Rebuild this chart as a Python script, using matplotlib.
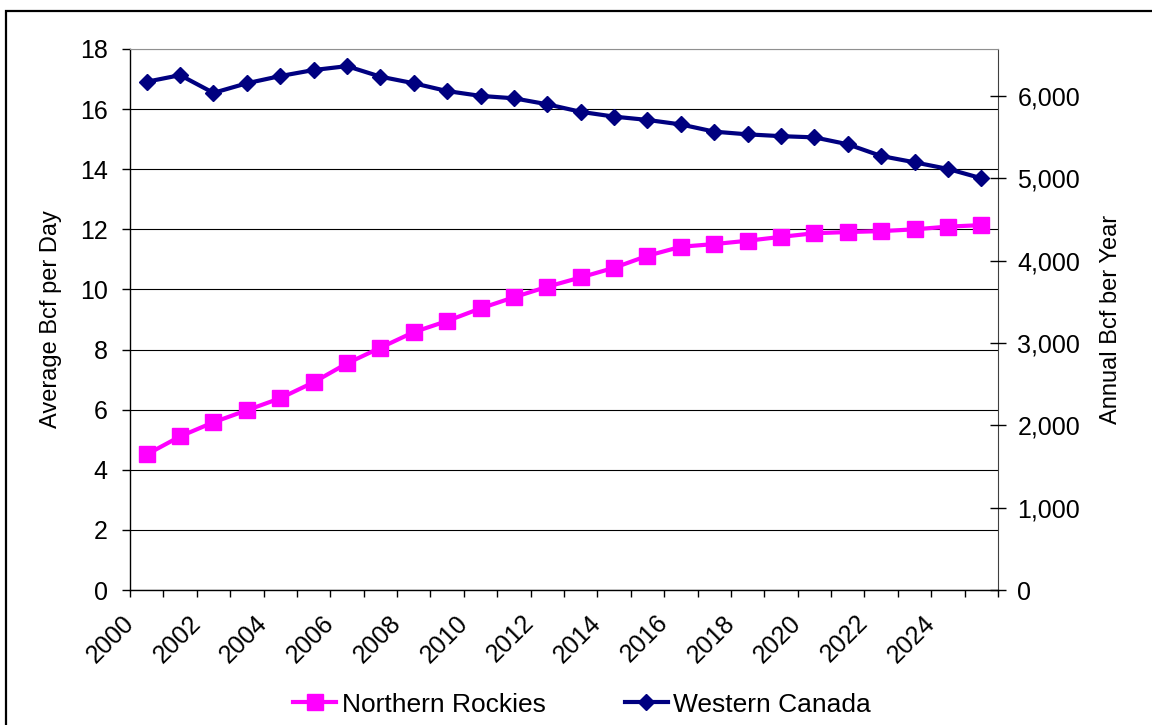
import matplotlib.pyplot as plt
import matplotlib.patches as patches
from matplotlib.ticker import FuncFormatter
import numpy as np

plt.rcParams['font.family'] = ['Liberation Sans', 'DejaVu Sans']

years = list(range(2000, 2026))
northern_rockies = [4.51, 5.11, 5.58, 5.98, 6.38, 6.91, 7.54, 8.06, 8.58, 8.95,
                    9.37, 9.74, 10.09, 10.40, 10.72, 11.12, 11.42, 11.51, 11.62, 11.75,
                    11.87, 11.91, 11.94, 12.00, 12.09, 12.14]
western_canada = [16.91, 17.13, 16.54, 16.86, 17.10, 17.30, 17.43, 17.08, 16.86, 16.60,
                  16.44, 16.36, 16.16, 15.91, 15.75, 15.64, 15.49, 15.25, 15.16, 15.10,
                  15.06, 14.83, 14.44, 14.23, 14.01, 13.70]
left_ticks = list(range(0, 19, 2))
right_ticks = list(range(0, 7000, 1000))
year_labels = [str(y) for y in range(2000, 2025, 2)]

fig = plt.figure(figsize=(11.52, 7.25), dpi=100)
ax = fig.add_axes([130/1152, 1 - 590/725, 868/1152, 541/725])

# points sit in the middle of each year's slot
xs = np.array(years) + 0.5
nr, = ax.plot(xs, northern_rockies, '-s', color='#FF00FF', lw=3, ms=11,
              label='Northern Rockies', clip_on=False)
wc, = ax.plot(xs, western_canada, '-D', color='#000080', lw=3, ms=8.5,
              label='Western Canada', clip_on=False)

ax.set_xlim(2000, 2026)
ax.set_ylim(0, 18)
ax.set_yticks(left_ticks)
ax.set_xticks(range(2000, 2027))
ax.set_xticklabels([str(y) if str(y) in year_labels else '' for y in range(2000, 2027)])
ax.tick_params(axis='x', length=5, width=1, pad=16, labelsize=18)
ax.tick_params(axis='y', length=6, width=1, pad=10, labelsize=18)
for lab in ax.get_xticklabels():
    lab.set_rotation(45)
    lab.set_ha('right')
    lab.set_va('center')
    lab.set_rotation_mode('anchor')

ax.grid(axis='y', color='black', lw=0.8)
ax.get_ygridlines()[-1].set_color('#909090')
ax.spines['top'].set_color('#909090')
ax.spines['right'].set_color('#404040')
ax.spines['left'].set_linewidth(1)
ax.spines['bottom'].set_linewidth(1)

# annual volume scale on the right
ax2 = ax.twinx()
ax2.set_ylim(0, 18 * 365)
ax2.set_yticks(right_ticks)
ax2.yaxis.set_major_formatter(FuncFormatter(lambda v, p: f'{int(v):,}'))
ax2.tick_params(axis='y', direction='inout', length=12, width=1, pad=8, labelsize=18)
for s in ax2.spines.values():
    s.set_visible(False)

ax.set_ylabel('Average Bcf per Day', fontsize=17)
ax.yaxis.label.set(va='center', ha='center')
ax.yaxis.set_label_coords((51 - 130) / 868, 0.5)
ax2.set_ylabel('Annual Bcf ber Year', fontsize=17)
ax2.yaxis.label.set(va='center', ha='center', rotation=90)
ax2.yaxis.set_label_coords((1111 - 130) / 868, 0.5)

fig.legend(handles=[nr, wc], loc='center', bbox_to_anchor=(582/1152, 0.028),
           ncol=2, frameon=False, fontsize=19, handlelength=1.65,
           handletextpad=0.2, columnspacing=3.0)

# chart border
fig.patches.append(patches.Rectangle((6/1152, -0.1), 1.2, 1.1 - 11/725,
                                     transform=fig.transFigure, fill=False,
                                     edgecolor='black', lw=1.6))

plt.savefig('out.png', dpi=100)
